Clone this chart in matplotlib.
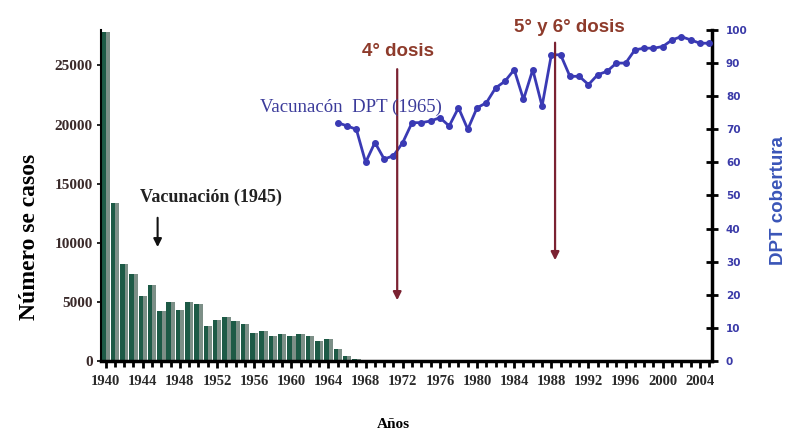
import numpy as np
from matplotlib import pyplot as plt

# casos de tos ferina por año (eje izquierdo)
years = list(range(1940, 2005))
cases = [27800, 13400, 8200, 7400, 5500, 6400, 4200, 5000, 4300, 4950,
         4850, 2950, 3450, 3750, 3400, 3100, 2350, 2500, 2100, 2250,
         2150, 2300, 2100, 1700, 1850, 1050, 400, 150, 120, 90,
         70, 60, 50, 50, 45, 40, 40, 35, 35, 30,
         30, 30, 25, 25, 25, 20, 20, 20, 20, 20,
         20, 20, 20, 20, 20, 20, 20, 20, 20, 20,
         20, 20, 20, 20, 20]

# cobertura DPT (eje derecho)
cov_years = list(range(1965, 2006))
coverage = [72, 71, 70, 60, 66, 61, 62, 66, 72, 72,
            72.5, 73.5, 71, 76.5, 70, 76.5, 78, 82.5, 84.5, 88,
            79, 88, 77, 92.5, 92.5, 86, 86, 83.5, 86.5, 87.5,
            90, 90, 94, 94.5, 94.5, 95, 97, 98, 97, 96, 96]

xticks = list(range(1940, 2005, 4))

fig = plt.figure(figsize=(7.95, 4.32), dpi=100)
ax = fig.add_axes([0.127, 0.1644, 0.7686, 0.7662])
ax2 = ax.twinx()

yrs = np.array(years)
w = 0.9
ax.bar(yrs - w / 2, cases, width=w * 0.55, align='edge', color='#1d5a46', zorder=2)
ax.bar(yrs - w / 2 + w * 0.55, cases, width=w * 0.45, align='edge', color='#7c8f87', zorder=2)

ax.set_xlim(1939.5, 2005.3)
ax.set_ylim(0, 28000)
ax.set_xticks(xticks)
ax.set_xticks(years + [2005], minor=True)
ax.set_yticks([0, 5000, 10000, 15000, 20000, 25000])
ax.tick_params(axis='x', which='major', length=5, width=2, direction='out',
               labelsize=10.5, pad=5, labelcolor='#2a2a2a')
ax.tick_params(axis='x', which='minor', length=4, width=2, direction='out')
ax.tick_params(axis='y', length=3, width=1.2, labelsize=11, labelcolor='#3a2a2a', pad=3)
for lab in ax.get_xticklabels() + ax.get_yticklabels():
    lab.set_fontfamily('Liberation Serif')
    lab.set_fontweight('bold')
ax.spines['top'].set_visible(False)
ax.spines['right'].set_visible(False)
ax.spines['bottom'].set_linewidth(2.5)
ax.spines['left'].set_linewidth(1.5)
ax.set_ylabel('Número se casos', fontsize=17, fontweight='bold',
              family='Liberation Serif')
ax.yaxis.set_label_coords(-0.1, 0.375)
ax.set_xlabel('Años', fontsize=11, fontweight='bold', family='Liberation Serif')
ax.xaxis.set_label_coords(0.478, -0.172)

ax2.plot(cov_years, coverage, color='#3a3ab4', lw=2, marker='o', ms=4, zorder=3)
ax2.set_ylim(0, 100)
ax2.set_yticks(range(0, 101, 10))
ax2.tick_params(axis='y', direction='inout', length=8, width=2, labelsize=7.5,
                labelcolor='#3a3aa8', pad=6)
for lab in ax2.get_yticklabels():
    lab.set_fontweight('bold')
ax2.spines['top'].set_visible(False)
ax2.spines['left'].set_visible(False)
ax2.spines['bottom'].set_visible(False)
ax2.spines['right'].set_linewidth(2.5)
fig.text(0.979, 0.535, 'DPT cobertura', rotation=90, ha='center', va='center',
         fontsize=13.5, fontweight='bold', color='#3a55b8', family='Liberation Sans')

# anotaciones
ax2.annotate('', xy=(1971.4, 17.5), xytext=(1971.4, 89),
             arrowprops=dict(arrowstyle='-|>', color='#7b2232', lw=1.6, mutation_scale=12))
ax2.text(1971.5, 93.4, '4° dosis', ha='center', va='center', fontsize=13.5,
         fontweight='bold', color='#8e3b2b', family='Liberation Sans')
ax2.annotate('', xy=(1988.4, 29.6), xytext=(1988.4, 97),
             arrowprops=dict(arrowstyle='-|>', color='#7b2232', lw=1.6, mutation_scale=12))
ax2.text(1989.9, 100.6, '5° y 6° dosis', ha='center', va='center', fontsize=13.5,
         fontweight='bold', color='#8e3b2b', family='Liberation Sans', clip_on=False)
ax2.text(1956.6, 76.7, 'Vacunacón  DPT (1965)', ha='left', va='center', fontsize=13.5,
         color='#3b3b9a', family='Liberation Serif')
ax.annotate('', xy=(1945.6, 9400), xytext=(1945.6, 12350),
            arrowprops=dict(arrowstyle='-|>', color='#111111', lw=1.5, mutation_scale=12))
ax.text(1943.7, 13870, 'Vacunación (1945)', ha='left', va='center', fontsize=13,
        fontweight='bold', color='#222222', family='Liberation Serif')

plt.savefig('out.png', dpi=100)
